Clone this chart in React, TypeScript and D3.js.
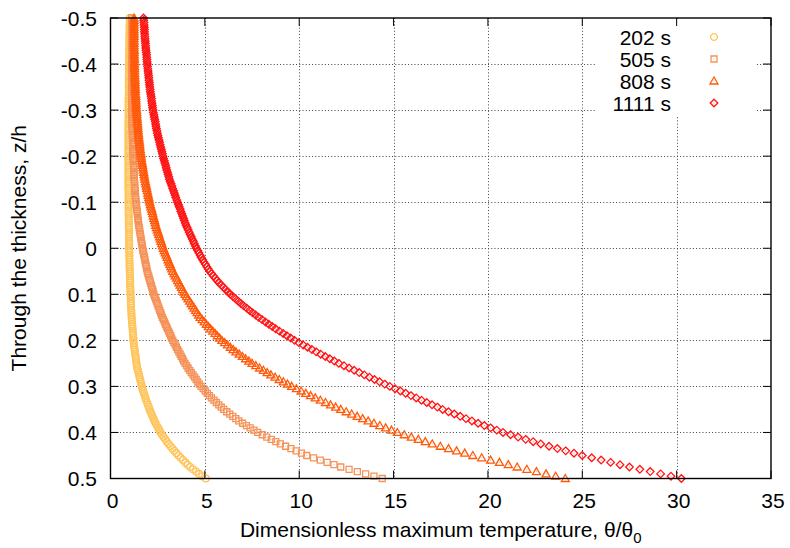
import React from 'react';
import * as d3 from 'd3';

// Through-thickness coordinate z/h (shared sampling positions of all four series)
const zValues = [
  -0.5, -0.495, -0.49, -0.485, -0.48, -0.475, -0.47, -0.465, -0.46, -0.455,
  -0.45, -0.445, -0.44, -0.435, -0.43, -0.425, -0.42, -0.415, -0.41, -0.405,
  -0.4, -0.395, -0.39, -0.385, -0.38, -0.375, -0.37, -0.365, -0.36, -0.355,
  -0.35, -0.345, -0.34, -0.335, -0.33, -0.325, -0.32, -0.315, -0.31, -0.305,
  -0.3, -0.295, -0.29, -0.285, -0.28, -0.275, -0.27, -0.265, -0.26, -0.255,
  -0.25, -0.245, -0.24, -0.235, -0.23, -0.225, -0.22, -0.215, -0.21, -0.205,
  -0.2, -0.195, -0.19, -0.185, -0.18, -0.175, -0.17, -0.165, -0.16, -0.155,
  -0.15, -0.145, -0.14, -0.135, -0.13, -0.125, -0.12, -0.115, -0.11, -0.105,
  -0.1, -0.095, -0.09, -0.085, -0.08, -0.075, -0.07, -0.065, -0.06, -0.055,
  -0.05, -0.045, -0.04, -0.035, -0.03, -0.025, -0.02, -0.015, -0.01, -0.005,
  0, 0.005, 0.01, 0.015, 0.02, 0.025, 0.03, 0.035, 0.04, 0.045,
  0.05, 0.055, 0.06, 0.065, 0.07, 0.075, 0.08, 0.085, 0.09, 0.095,
  0.1, 0.105, 0.11, 0.115, 0.12, 0.125, 0.13, 0.135, 0.14, 0.145,
  0.15, 0.155, 0.16, 0.165, 0.17, 0.175, 0.18, 0.185, 0.19, 0.195,
  0.2, 0.205, 0.21, 0.215, 0.22, 0.225, 0.23, 0.235, 0.24, 0.245,
  0.25, 0.255, 0.26, 0.265, 0.27, 0.275, 0.28, 0.285, 0.29, 0.295,
  0.3, 0.305, 0.31, 0.315, 0.32, 0.325, 0.33, 0.335, 0.34, 0.345,
  0.35, 0.355, 0.36, 0.365, 0.37, 0.375, 0.38, 0.385, 0.39, 0.395,
  0.4, 0.405, 0.41, 0.415, 0.42, 0.425, 0.43, 0.435, 0.44, 0.445,
  0.45, 0.455, 0.46, 0.465, 0.47, 0.475, 0.48, 0.485, 0.49, 0.495,
  0.5,
];

// Dimensionless maximum temperature θ/θ0 at each z/h
const temp202s = [
  1.02, 1.02, 1.02, 1.01, 1.01, 1.01, 1.01, 1.01, 1.00, 1.00,
  1.00, 1.00, 1.00, 0.99, 0.99, 0.99, 0.99, 0.99, 0.98, 0.98,
  0.98, 0.98, 0.98, 0.98, 0.98, 0.97, 0.97, 0.97, 0.97, 0.97,
  0.97, 0.97, 0.97, 0.97, 0.97, 0.96, 0.96, 0.96, 0.96, 0.96,
  0.96, 0.96, 0.96, 0.96, 0.96, 0.95, 0.95, 0.95, 0.95, 0.95,
  0.95, 0.95, 0.95, 0.95, 0.95, 0.95, 0.95, 0.95, 0.95, 0.95,
  0.95, 0.95, 0.95, 0.95, 0.95, 0.95, 0.95, 0.95, 0.95, 0.95,
  0.95, 0.95, 0.95, 0.95, 0.95, 0.95, 0.96, 0.96, 0.96, 0.96,
  0.96, 0.96, 0.96, 0.96, 0.96, 0.96, 0.97, 0.97, 0.97, 0.97,
  0.97, 0.97, 0.98, 0.98, 0.98, 0.98, 0.98, 0.99, 0.99, 0.99,
  0.99, 0.99, 1.00, 1.00, 1.00, 1.00, 1.01, 1.01, 1.01, 1.02,
  1.02, 1.02, 1.03, 1.03, 1.04, 1.04, 1.04, 1.05, 1.05, 1.06,
  1.06, 1.07, 1.07, 1.08, 1.08, 1.09, 1.09, 1.10, 1.11, 1.11,
  1.12, 1.13, 1.14, 1.15, 1.16, 1.17, 1.18, 1.19, 1.20, 1.21,
  1.22, 1.23, 1.25, 1.26, 1.28, 1.30, 1.31, 1.33, 1.35, 1.36,
  1.38, 1.40, 1.42, 1.45, 1.48, 1.51, 1.54, 1.57, 1.60, 1.63,
  1.66, 1.69, 1.73, 1.77, 1.81, 1.85, 1.89, 1.94, 1.98, 2.03,
  2.07, 2.12, 2.17, 2.22, 2.28, 2.33, 2.39, 2.46, 2.52, 2.59,
  2.65, 2.73, 2.81, 2.90, 2.99, 3.08, 3.18, 3.28, 3.38, 3.49,
  3.60, 3.72, 3.84, 3.96, 4.09, 4.22, 4.37, 4.53, 4.69, 4.86,
  5.05,
];

const temp505s = [
  1.13, 1.13, 1.13, 1.13, 1.13, 1.12, 1.12, 1.12, 1.12, 1.12,
  1.12, 1.12, 1.12, 1.12, 1.12, 1.12, 1.12, 1.12, 1.12, 1.12,
  1.12, 1.12, 1.12, 1.12, 1.12, 1.12, 1.12, 1.12, 1.12, 1.12,
  1.12, 1.12, 1.12, 1.12, 1.12, 1.12, 1.13, 1.13, 1.13, 1.13,
  1.13, 1.13, 1.14, 1.14, 1.14, 1.14, 1.15, 1.15, 1.15, 1.16,
  1.16, 1.16, 1.17, 1.17, 1.18, 1.18, 1.18, 1.19, 1.19, 1.20,
  1.20, 1.21, 1.21, 1.22, 1.22, 1.23, 1.24, 1.24, 1.25, 1.25,
  1.26, 1.27, 1.28, 1.28, 1.29, 1.30, 1.31, 1.32, 1.33, 1.34,
  1.35, 1.36, 1.38, 1.39, 1.41, 1.42, 1.44, 1.45, 1.47, 1.48,
  1.50, 1.52, 1.54, 1.56, 1.58, 1.60, 1.62, 1.64, 1.66, 1.68,
  1.70, 1.72, 1.75, 1.77, 1.80, 1.82, 1.85, 1.87, 1.90, 1.92,
  1.95, 1.98, 2.02, 2.05, 2.09, 2.12, 2.16, 2.19, 2.23, 2.26,
  2.30, 2.34, 2.39, 2.43, 2.48, 2.52, 2.57, 2.61, 2.66, 2.70,
  2.75, 2.80, 2.86, 2.91, 2.97, 3.02, 3.08, 3.13, 3.19, 3.24,
  3.30, 3.36, 3.43, 3.49, 3.56, 3.62, 3.69, 3.75, 3.82, 3.88,
  3.95, 4.03, 4.11, 4.20, 4.28, 4.37, 4.45, 4.54, 4.62, 4.71,
  4.80, 4.91, 5.02, 5.13, 5.24, 5.35, 5.48, 5.61, 5.74, 5.87,
  6.00, 6.16, 6.32, 6.48, 6.64, 6.80, 7.00, 7.20, 7.40, 7.60,
  7.80, 8.04, 8.28, 8.52, 8.76, 9.00, 9.28, 9.56, 9.84, 10.12,
  10.40, 10.76, 11.12, 11.48, 11.84, 12.20, 12.64, 13.08, 13.52, 13.96,
  14.40,
];

const temp808s = [
  1.25, 1.25, 1.25, 1.25, 1.25, 1.25, 1.25, 1.25, 1.25, 1.25,
  1.25, 1.25, 1.25, 1.25, 1.26, 1.26, 1.26, 1.26, 1.27, 1.27,
  1.27, 1.27, 1.28, 1.28, 1.28, 1.29, 1.29, 1.30, 1.30, 1.31,
  1.31, 1.32, 1.32, 1.33, 1.34, 1.34, 1.35, 1.36, 1.36, 1.37,
  1.38, 1.39, 1.40, 1.41, 1.42, 1.43, 1.44, 1.45, 1.46, 1.47,
  1.48, 1.49, 1.51, 1.52, 1.54, 1.55, 1.56, 1.58, 1.59, 1.61,
  1.62, 1.64, 1.66, 1.68, 1.70, 1.72, 1.74, 1.76, 1.78, 1.80,
  1.82, 1.85, 1.87, 1.90, 1.92, 1.95, 1.98, 2.00, 2.03, 2.05,
  2.08, 2.11, 2.14, 2.18, 2.21, 2.24, 2.27, 2.30, 2.34, 2.37,
  2.40, 2.44, 2.48, 2.52, 2.56, 2.60, 2.64, 2.68, 2.72, 2.76,
  2.80, 2.85, 2.90, 2.95, 3.00, 3.05, 3.10, 3.15, 3.20, 3.25,
  3.30, 3.37, 3.43, 3.50, 3.56, 3.63, 3.69, 3.76, 3.82, 3.89,
  3.95, 4.03, 4.11, 4.19, 4.27, 4.35, 4.43, 4.51, 4.59, 4.67,
  4.75, 4.86, 4.97, 5.08, 5.19, 5.30, 5.42, 5.54, 5.66, 5.78,
  5.90, 6.05, 6.20, 6.35, 6.50, 6.65, 6.82, 6.99, 7.16, 7.33,
  7.50, 7.70, 7.90, 8.10, 8.30, 8.50, 8.72, 8.94, 9.16, 9.38,
  9.60, 9.85, 10.10, 10.35, 10.60, 10.85, 11.12, 11.39, 11.66, 11.93,
  12.20, 12.49, 12.78, 13.07, 13.36, 13.65, 13.96, 14.27, 14.58, 14.89,
  15.20, 15.57, 15.94, 16.31, 16.68, 17.05, 17.48, 17.91, 18.34, 18.77,
  19.20, 19.67, 20.14, 20.61, 21.08, 21.55, 22.06, 22.57, 23.08, 23.59,
  24.10,
];

const temp1111s = [
  1.75, 1.76, 1.77, 1.78, 1.79, 1.80, 1.80, 1.81, 1.82, 1.83,
  1.84, 1.85, 1.86, 1.87, 1.88, 1.90, 1.91, 1.92, 1.93, 1.94,
  1.95, 1.96, 1.98, 1.99, 2.00, 2.02, 2.03, 2.04, 2.06, 2.07,
  2.08, 2.10, 2.11, 2.13, 2.15, 2.17, 2.18, 2.20, 2.22, 2.23,
  2.25, 2.27, 2.30, 2.32, 2.34, 2.37, 2.39, 2.41, 2.43, 2.46,
  2.48, 2.51, 2.54, 2.57, 2.60, 2.63, 2.66, 2.69, 2.72, 2.75,
  2.78, 2.81, 2.85, 2.88, 2.92, 2.95, 2.98, 3.02, 3.05, 3.09,
  3.12, 3.16, 3.21, 3.25, 3.29, 3.34, 3.38, 3.42, 3.46, 3.51,
  3.55, 3.60, 3.64, 3.69, 3.73, 3.78, 3.82, 3.87, 3.91, 3.96,
  4.00, 4.06, 4.11, 4.17, 4.22, 4.28, 4.33, 4.39, 4.44, 4.50,
  4.55, 4.62, 4.68, 4.75, 4.81, 4.88, 4.95, 5.03, 5.10, 5.18,
  5.25, 5.35, 5.45, 5.55, 5.65, 5.75, 5.87, 5.99, 6.11, 6.23,
  6.35, 6.49, 6.63, 6.77, 6.91, 7.05, 7.21, 7.37, 7.53, 7.69,
  7.85, 8.03, 8.21, 8.39, 8.57, 8.75, 8.95, 9.15, 9.35, 9.55,
  9.75, 9.98, 10.21, 10.44, 10.67, 10.90, 11.14, 11.38, 11.62, 11.86,
  12.10, 12.37, 12.64, 12.91, 13.18, 13.45, 13.72, 13.99, 14.26, 14.53,
  14.80, 15.08, 15.36, 15.64, 15.92, 16.20, 16.48, 16.76, 17.04, 17.32,
  17.60, 17.91, 18.22, 18.53, 18.84, 19.15, 19.48, 19.81, 20.14, 20.47,
  20.80, 21.20, 21.60, 22.00, 22.40, 22.80, 23.24, 23.68, 24.12, 24.56,
  25.00, 25.50, 26.00, 26.50, 27.00, 27.50, 28.05, 28.60, 29.15, 29.70,
  30.25,
];

const seriesLabels = ['202 s', '505 s', '808 s', '1111 s'];
const seriesData = [temp202s, temp505s, temp808s, temp1111s];
const seriesColors = ['#ffc55c', '#f5935a', '#ff5a0a', '#ff1414'];
const seriesShapes = ['circle', 'square', 'triangle', 'diamond'];

const xTicks = [0, 5, 10, 15, 20, 25, 30, 35];
const yTicks = [-0.5, -0.4, -0.3, -0.2, -0.1, 0, 0.1, 0.2, 0.3, 0.4, 0.5];

const xTitle = 'Dimensionless maximum temperature, θ/θ';
const xTitleSub = '0';
const yTitle = 'Through the thickness, z/h';

function markerPath(shape: string, cx: number, cy: number): string {
  if (shape === 'circle') {
    const r = 3.4;
    return `M${cx - r},${cy}a${r},${r} 0 1,0 ${2 * r},0a${r},${r} 0 1,0 ${-2 * r},0Z`;
  }
  if (shape === 'square') {
    const h = 3.0;
    return `M${cx - h},${cy - h}h${2 * h}v${2 * h}h${-2 * h}Z`;
  }
  if (shape === 'triangle') {
    const h = 4.0;
    return `M${cx},${cy - h}L${cx + h},${cy + h * 0.75}L${cx - h},${cy + h * 0.75}Z`;
  }
  const d = 3.8;
  return `M${cx},${cy - d}L${cx + d},${cy}L${cx},${cy + d}L${cx - d},${cy}Z`;
}

export default function App() {
  const W = 790;
  const H = 548;
  const left = 110.5;
  const right = 771;
  const top = 18;
  const bottom = 478.5;
  const font = '"Liberation Sans", Arial, Helvetica, sans-serif';

  const x = d3.scaleLinear().domain([0, 35]).range([left, right]);
  const y = d3.scaleLinear().domain([-0.5, 0.5]).range([top, bottom]);
  const tickLen = 8;
  const fmtY = (v: number) => (Math.abs(v) < 1e-9 ? '0' : v.toFixed(1));

  const legendY = [37, 59, 81, 103];

  return (
    <svg
      width={W}
      height={H}
      viewBox={`0 0 ${W} ${H}`}
      style={{ position: 'absolute', left: 0, top: 0, background: '#fff' }}
      fontFamily={font}
    >
      <rect x={0} y={0} width={W} height={H} fill="#fff" />
      {/* grid */}
      <g stroke="#222" strokeWidth={1} strokeDasharray="1,2.2" opacity={0.85}>
        {xTicks.slice(1, -1).map((t) => (
          <line key={'gx' + t} x1={Math.round(x(t)) + 0.5} x2={Math.round(x(t)) + 0.5} y1={top} y2={bottom} />
        ))}
        {yTicks.slice(1, -1).map((t) => (
          <line key={'gy' + t} x1={left} x2={right} y1={Math.round(y(t)) + 0.5} y2={Math.round(y(t)) + 0.5} />
        ))}
      </g>
      {/* legend background */}
      <rect x={595} y={21} width={161} height={96} fill="#fff" />
      {/* series */}
      {seriesData.map((vals, si) => (
        <g key={'s' + si} fill="none" stroke={seriesColors[si]} strokeWidth={1.3}>
          {vals.map((v, i) => (
            <path key={i} d={markerPath(seriesShapes[si], x(v), y(zValues[i]))} />
          ))}
          {vals.map((v, i) => (
            <rect key={'c' + i} x={x(v) - 0.5} y={y(zValues[i]) - 0.5} width={1} height={1} fill={seriesColors[si]} stroke="none" opacity={0.6} />
          ))}
        </g>
      ))}
      {/* ticks */}
      <g stroke="#000" strokeWidth={1}>
        {xTicks.map((t) => (
          <g key={'tx' + t}>
            <line x1={x(t)} x2={x(t)} y1={bottom} y2={bottom - tickLen} />
            <line x1={x(t)} x2={x(t)} y1={top} y2={top + tickLen} />
          </g>
        ))}
        {yTicks.map((t) => (
          <g key={'ty' + t}>
            <line x1={left} x2={left + tickLen} y1={y(t)} y2={y(t)} />
            <line x1={right} x2={right - tickLen} y1={y(t)} y2={y(t)} />
          </g>
        ))}
      </g>
      {/* border */}
      <rect x={left} y={top} width={right - left} height={bottom - top} fill="none" stroke="#000" strokeWidth={1.4} />
      {/* tick labels */}
      <g fontSize={21} fill="#000">
        {xTicks.map((t) => (
          <text key={'lx' + t} x={x(t) + 2} y={508} textAnchor="middle">
            {t}
          </text>
        ))}
        {yTicks.map((t) => (
          <text key={'ly' + t} x={97} y={y(t) + 7.5} textAnchor="end">
            {fmtY(t)}
          </text>
        ))}
      </g>
      {/* axis titles */}
      <text x={(left + right) / 2} y={537} textAnchor="middle" fontSize={21} fill="#000">
        {xTitle}
        <tspan fontSize={15} dy={6}>
          {xTitleSub}
        </tspan>
      </text>
      <text
        transform={`translate(26,${(top + bottom) / 2}) rotate(-90)`}
        textAnchor="middle"
        fontSize={21}
        fill="#000"
      >
        {yTitle}
      </text>
      {/* legend */}
      {seriesLabels.map((lab, si) => (
        <g key={'lg' + si}>
          <text x={671} y={legendY[si] + 7.5} textAnchor="end" fontSize={21} fill="#000">
            {lab}
          </text>
          <path d={markerPath(seriesShapes[si], 714, legendY[si])} fill="none" stroke={seriesColors[si]} strokeWidth={1.3} />
          <rect x={713.5} y={legendY[si] - 0.5} width={1} height={1} fill={seriesColors[si]} opacity={0.6} />
        </g>
      ))}
    </svg>
  );
}
